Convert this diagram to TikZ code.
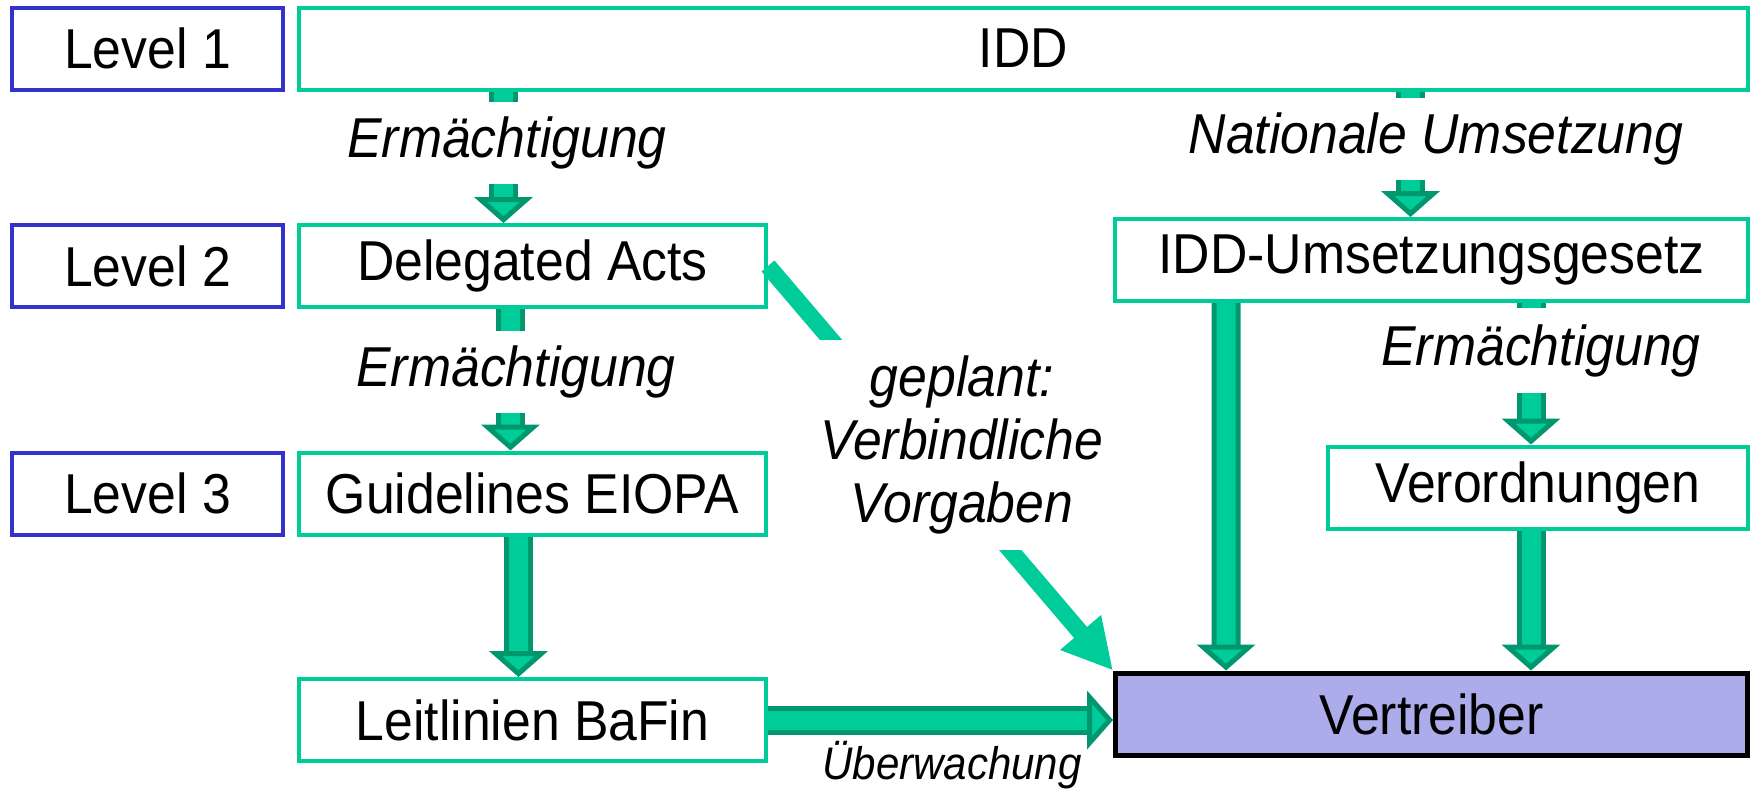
\documentclass[tikz,border=0pt]{standalone}
\usepackage{fontspec}
\setmainfont{Liberation Sans}[FakeStretch=0.92]
\usepackage{tikz}
\usetikzlibrary{arrows.meta,positioning,calc}
\definecolor{iddgreen}{RGB}{0,204,153}
\definecolor{iddgreendark}{RGB}{0,150,110}
\definecolor{levelblue}{RGB}{51,51,204}
\definecolor{vertfill}{RGB}{172,172,234}
\tikzset{
    box/.style={rectangle, draw=iddgreen, line width=0.4mm, fill=white, minimum height=8.2mm, inner sep=0pt, font=\fontsize{16}{18}\selectfont},
    levelbox/.style={box, draw=levelblue, minimum width=27.1mm},
    flow/.style={draw=iddgreendark, line width=0.5mm, double=iddgreen, double distance=1.9mm, -{Triangle[length=2.6mm, width=5.8mm, fill=iddgreen, color=iddgreendark, line width=0.5mm]}},
    plan/.style={draw=iddgreen, line width=1.7mm, -{Triangle[length=5mm, width=5mm, fill=iddgreen]}},
    lbl/.style={fill=white, font=\fontsize{16}{18}\selectfont\itshape, inner xsep=1mm, inner ysep=1.5mm, align=center}
}

\begin{document}
\begin{tikzpicture}[x=0.1mm, y=-0.1mm]
    \useasboundingbox (0,0) rectangle (1754,789);

    % Level 1
    \node [box, minimum width=144.9mm] (idd) at (1023.5,48.5) {IDD};
    \node [levelbox, left=1.2mm of idd] (lvl1) {Level 1};

    % Level 2
    \node [box, minimum width=46.7mm] (del) at (532.5,266) {Delegated Acts};
    \node [levelbox, left=1.2mm of del] (lvl2) {Level 2};

    % Level 3
    \node [box, minimum width=46.7mm] (guide) at (532.5,493.5) {Guidelines EIOPA};
    \node [levelbox, left=1.2mm of guide] (lvl3) {Level 3};
    \node [box, minimum width=46.7mm] (leit) at (532.5,720) {Leitlinien BaFin};

    % National law
    \node [box, minimum width=63.3mm] (umset) at (1431.5,260) {IDD-Umsetzungsgesetz};
    \node [box, minimum width=42mm] (verord) at (1538,487.5) {Verordnungen};
    \node [box, draw=black, line width=0.5mm, fill=vertfill, minimum width=63.2mm] (vert) at (1431.5,714) {Vertreiber};

    % Connections
    \path [flow] ([xshift=-2.9mm]del.north |- idd.south) -- ([xshift=-2.9mm]del.north);
    \path [flow] ([xshift=-2.2mm]del.south) -- ([xshift=-2.2mm]guide.north);
    \path [flow] ([xshift=-1.4mm]guide.south) -- ([xshift=-1.4mm]leit.north);
    \path [flow] (leit.east) -- (leit.east -| vert.west);
    \path [flow] ([xshift=-2.1mm]umset.north |- idd.south) -- ([xshift=-2.1mm]umset.north);
    \path [flow] ([xshift=11.3mm]umset.south west) -- ([xshift=11.3mm]vert.north west);
    \path [flow] ([xshift=-0.7mm]verord.north |- umset.south) -- ([xshift=-0.7mm]verord.north);
    \path [flow] ([xshift=-0.7mm]verord.south) -- ([xshift=-0.7mm]verord.south |- vert.north);
    \path [plan] (del.east) -- (vert.north west);

    % Labels on the arrows
    \node [lbl] (auth1) at (507,143) {Ermächtigung};
    \node [lbl] (natimpl) at (1436,139) {Nationale Umsetzung};
    \node [lbl] (auth2) at (516,372) {Ermächtigung};
    \node [lbl, inner ysep=1.6mm] (auth3) at (1541,350.5) {Ermächtigung};
    \node [lbl, inner ysep=1.6mm] (planned) at (962,445) {geplant:\\Verbindliche\\Vorgaben};
    \node [font=\fontsize{13}{15}\selectfont\itshape, anchor=base] (superv) at (952,779) {Überwachung};
\end{tikzpicture}
\end{document}
